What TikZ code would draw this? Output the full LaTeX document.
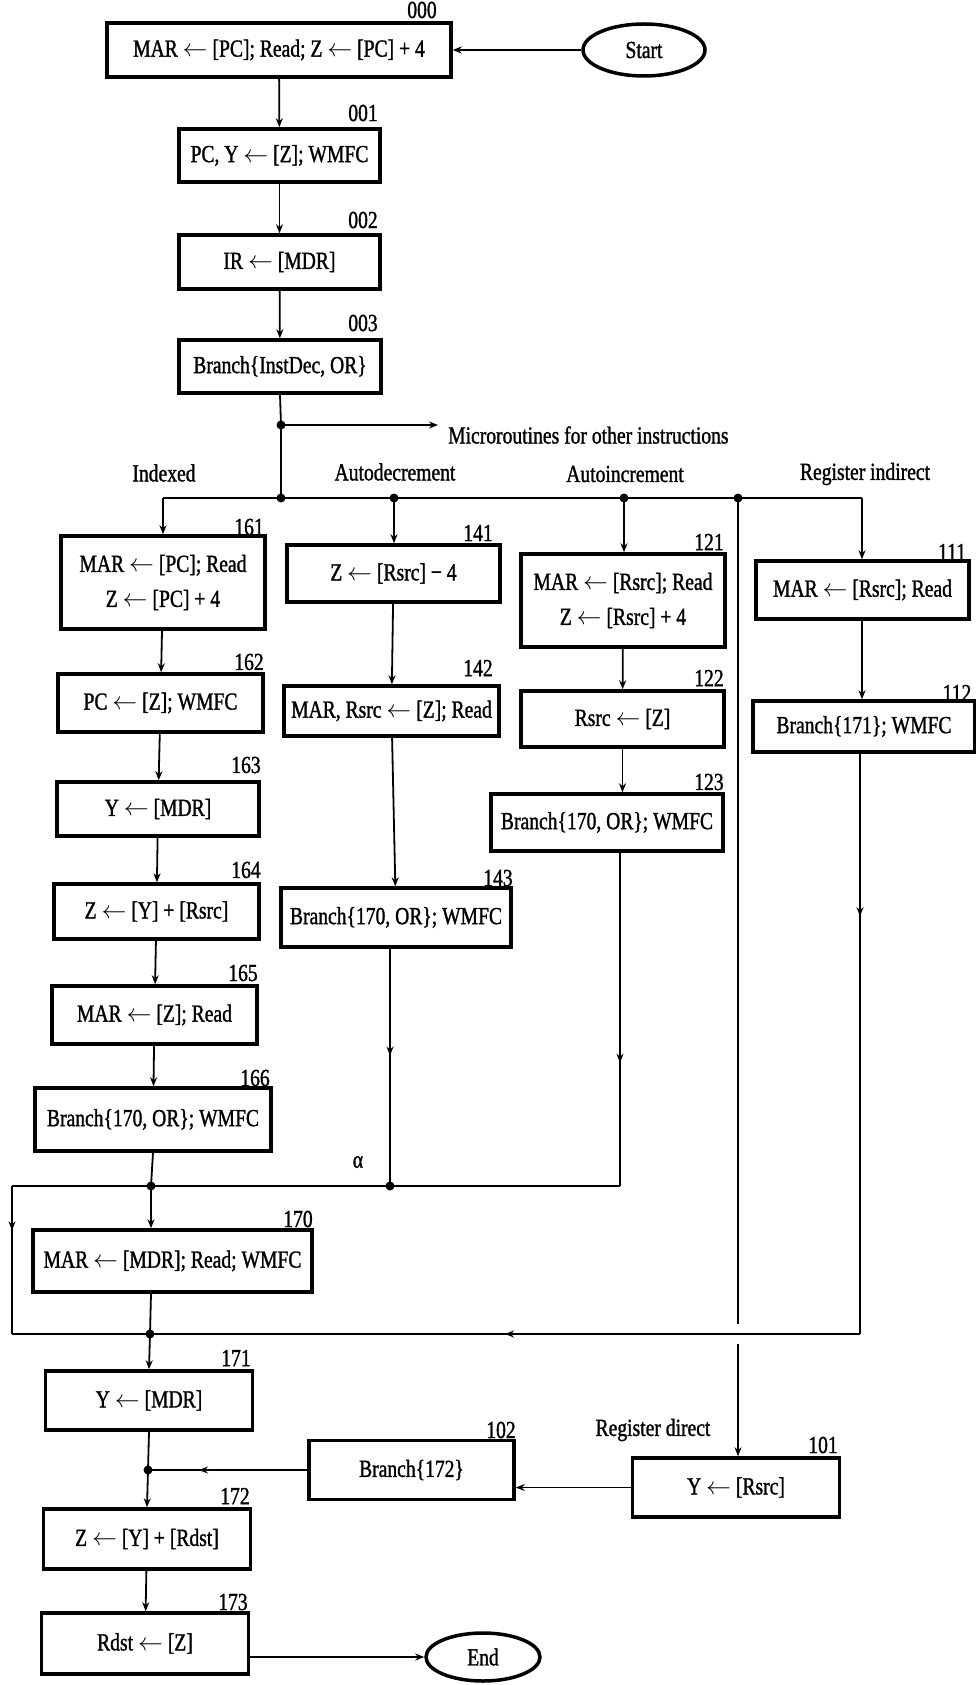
\documentclass[tikz,border=0pt]{standalone}
\usepackage{fontspec}
\setmainfont{Liberation Serif}[FakeStretch=0.8, FakeBold=1.2]
\usetikzlibrary{arrows.meta,shapes.geometric,decorations.markings,calc}
\newcommand\diagfont{\fontsize{24.5}{35}\selectfont}
\newcommand\larr{\ensuremath{\leftarrow}}

\begin{document}
\begin{tikzpicture}[x=1pt,y=-1pt,
  >={Stealth[length=9pt,width=7pt]},
  box/.style={draw, line width=3.5pt, rectangle, inner sep=0pt, align=center, font=\diagfont},
  term/.style={draw, ellipse, line width=3.5pt, inner sep=0pt, font=\diagfont},
  lbl/.style={font=\diagfont, inner sep=0pt},
  wire/.style={line width=1.8pt},
  midarrow/.style={postaction={decorate},
    decoration={markings, mark=at position #1 with {\arrow{>}}}}
]
\fill[white] (0,0) rectangle (976,1685);
\useasboundingbox (0,0) rectangle (976,1685);

% ---- instruction fetch ----
\node[lbl, anchor=base] (l000) at (422,18) {000};
\node[box, minimum width=344pt, minimum height=54pt] (b000) at (279,50) {MAR \larr{} [PC]; Read; Z \larr{} [PC] + 4};
\node[term, minimum width=122pt, minimum height=52pt] (start) at (644,50) {Start};
\node[lbl] (l001) at (363,113) {001};
\node[box, minimum width=201pt, minimum height=53pt] (b001) at (279.5,155.5) {PC, Y \larr{} [Z]; WMFC};
\node[lbl] (l002) at (363,220) {002};
\node[box, minimum width=201pt, minimum height=54pt] (b002) at (279.5,262) {IR \larr{} [MDR]};
\node[lbl] (l003) at (363,323) {003};
\node[box, minimum width=202pt, minimum height=53pt] (b003) at (280,366.5) {Branch\{InstDec, OR\}};

% ---- decoding bus ----
\coordinate (m1) at (281,425);
\coordinate (m2) at (281,498);
\coordinate (other) at (438,425);
\coordinate (busL) at (163,498);
\coordinate (dAD) at (394,498);
\coordinate (dAI) at (624,498);
\coordinate (dRD) at (738,498);
\coordinate (busR) at (862,498);
\node[lbl, anchor=west] (tother) at (448,435) {Microroutines for other instructions};
\node[lbl] (tidx) at (164,473) {Indexed};
\node[lbl] (tad) at (395,472) {Autodecrement};
\node[lbl] (tai) at (625,474) {Autoincrement};
\node[lbl] (tri) at (865,474) {Register indirect};

% ---- indexed ----
\node[lbl] (l161) at (249,527) {161};
\node[box, minimum width=204pt, minimum height=93pt] (b161) at (163,582.5) {MAR \larr{} [PC]; Read\\Z \larr{} [PC] + 4};
\node[lbl] (l162) at (249,662) {162};
\node[box, minimum width=205pt, minimum height=58pt] (b162) at (160.5,703) {PC \larr{} [Z]; WMFC};
\node[lbl] (l163) at (246,765) {163};
\node[box, minimum width=202pt, minimum height=54pt] (b163) at (158,809) {Y \larr{} [MDR]};
\node[lbl] (l164) at (246,870) {164};
\node[box, minimum width=205pt, minimum height=55pt] (b164) at (156.5,911.5) {Z \larr{} [Y] + [Rsrc]};
\node[lbl] (l165) at (243,973) {165};
\node[box, minimum width=205pt, minimum height=58pt] (b165) at (154.5,1015) {MAR \larr{} [Z]; Read};
\node[lbl] (l166) at (255,1078) {166};
\node[box, minimum width=236pt, minimum height=63pt] (b166) at (153,1119.5) {Branch\{170, OR\}; WMFC};

% ---- autodecrement ----
\node[lbl] (l141) at (478,533) {141};
\node[box, minimum width=213pt, minimum height=57pt] (b141) at (393.5,573.5) {Z \larr{} [Rsrc] − 4};
\node[lbl] (l142) at (478,668) {142};
\node[box, minimum width=215pt, minimum height=50pt] (b142) at (391.5,711) {MAR, Rsrc \larr{} [Z]; Read};
\node[lbl] (l143) at (498,878) {143};
\node[box, minimum width=230pt, minimum height=59pt] (b143) at (396,917.5) {Branch\{170, OR\}; WMFC};

% ---- autoincrement ----
\node[lbl] (l121) at (709,542) {121};
\node[box, minimum width=204pt, minimum height=93pt] (b121) at (623,600.5) {MAR \larr{} [Rsrc]; Read\\Z \larr{} [Rsrc] + 4};
\node[lbl] (l122) at (709,678) {122};
\node[box, minimum width=203pt, minimum height=56pt] (b122) at (622.5,719) {Rsrc \larr{} [Z]};
\node[lbl] (l123) at (709,782) {123};
\node[box, minimum width=232pt, minimum height=57pt] (b123) at (607,822.5) {Branch\{170, OR\}; WMFC};

% ---- register indirect ----
\node[lbl] (l111) at (952,552) {111};
\node[box, minimum width=213pt, minimum height=58pt] (b111) at (862.5,590) {MAR \larr{} [Rsrc]; Read};
\node[lbl] (l112) at (957,693) {112};
\node[box, minimum width=222pt, minimum height=51pt] (b112) at (864,726.5) {Branch\{171\}; WMFC};

% ---- common tail ----
\node[lbl] (talpha) at (358,1162) {α};
\node[lbl] (l170) at (298,1219) {170};
\node[box, minimum width=279pt, minimum height=62pt] (b170) at (172.5,1261) {MAR \larr{} [MDR]; Read; WMFC};
\node[lbl] (l171) at (236,1358) {171};
\node[box, minimum width=207pt, minimum height=59pt] (b171) at (149,1400.5) {Y \larr{} [MDR]};
\node[lbl] (l172) at (235,1496) {172};
\node[box, minimum width=207pt, minimum height=60pt] (b172) at (147,1539) {Z \larr{} [Y] + [Rdst]};
\node[lbl] (l173) at (233,1602) {173};
\node[box, minimum width=207pt, minimum height=61pt] (b173) at (145,1643.5) {Rdst \larr{} [Z]};
\node[term, minimum width=114pt, minimum height=48pt] (end) at (483,1657) {End};

% ---- register direct ----
\node[lbl] (trd) at (653,1430) {Register direct};
\node[lbl] (l102) at (501,1430) {102};
\node[box, minimum width=205pt, minimum height=59pt] (b102) at (411.5,1470) {Branch\{172\}};
\node[lbl] (l101) at (823,1445) {101};
\node[box, minimum width=207pt, minimum height=59pt] (b101) at (736,1487.5) {Y \larr{} [Rsrc]};

% ---- loop-back junctions ----
\coordinate (LT) at (12,1186);
\coordinate (jA) at (151,1186);
\coordinate (alpha) at (390,1186);
\coordinate (AR) at (620,1186);
\coordinate (LB) at (12,1334);
\coordinate (j171) at (150,1334);
\coordinate (RB) at (860,1334);
\coordinate (xRD) at (738,1334);
\coordinate (j172) at (148,1470);

% ---- connectors ----
\draw[wire,->] (start) -- (b000);
\draw[wire,->] (b000) -- (b001);
\draw[wire,->] (b001) -- (b002);
\draw[wire,->] (b002) -- (b003);
\draw[wire] (b003.south) -- (m1) -- (m2);
\draw[wire,->] (m1) -- (other);
\draw[wire] (busL) -- (busR);
\draw[wire,->] (busL) -- (b161.north);
\draw[wire,->] (dAD) -- (dAD |- b141.north);
\draw[wire,->] (dAI) -- (dAI |- b121.north);
\draw[wire,->] (busR) -- (busR |- b111.north);

\draw[wire,->] (b161) -- (b162);
\draw[wire,->] (b162) -- (b163);
\draw[wire,->] (b163) -- (b164);
\draw[wire,->] (b164) -- (b165);
\draw[wire,->] (b165) -- (b166);
\draw[wire] (b166.south) -- (jA);
\draw[wire,->] (jA) -- (jA |- b170.north);

\draw[wire,->] (b141) -- (b142);
\draw[wire,->] (b142) -- (b143);
\draw[wire, midarrow=0.45] (alpha |- b143.south) -- (alpha);

\draw[wire,->] (b121) -- (b122);
\draw[wire,->] (b122.south) -- (b122.south |- b123.north);
\draw[wire, midarrow=0.63] (AR |- b123.south) -- (AR);

\draw[wire,->] (busR |- b111.south) -- (busR |- b112.north);
\draw[wire, midarrow=0.28] (RB |- b112.south) -- (RB);

\draw[wire] (AR) -- (LT);
\draw[wire, midarrow=0.3] (LT) -- (LB);
\draw[wire] (LB) -- (j171);
\draw[wire, midarrow=0.5] (RB) -- (j171);
\draw[wire] (jA |- b170.south) -- (j171);
\draw[wire,->] (j171) -- (b171.north);
\draw[wire] (b171.south) -- (j172);
\draw[wire,->] (j172) -- (b172.north);
\draw[wire,->] (b172) -- (b173);
\draw[wire,->] (end.west -| b173.east) -- (end.west);

% register direct path, broken where it crosses the return line
\draw[wire] (dRD) -- ([yshift=10pt]xRD);
\draw[wire,->] ([yshift=-10pt]xRD) -- (xRD |- b101.north);
\draw[wire,->] (b101.west) -- (b101.west -| b102.east);
\draw[wire, midarrow=0.68] (b102.west) -- (j172);

% junction dots
\foreach \p in {m1,m2,dAD,dAI,dRD,jA,alpha,j171,j172}
  \fill (\p) circle (4.5pt);
\end{tikzpicture}
\end{document}
